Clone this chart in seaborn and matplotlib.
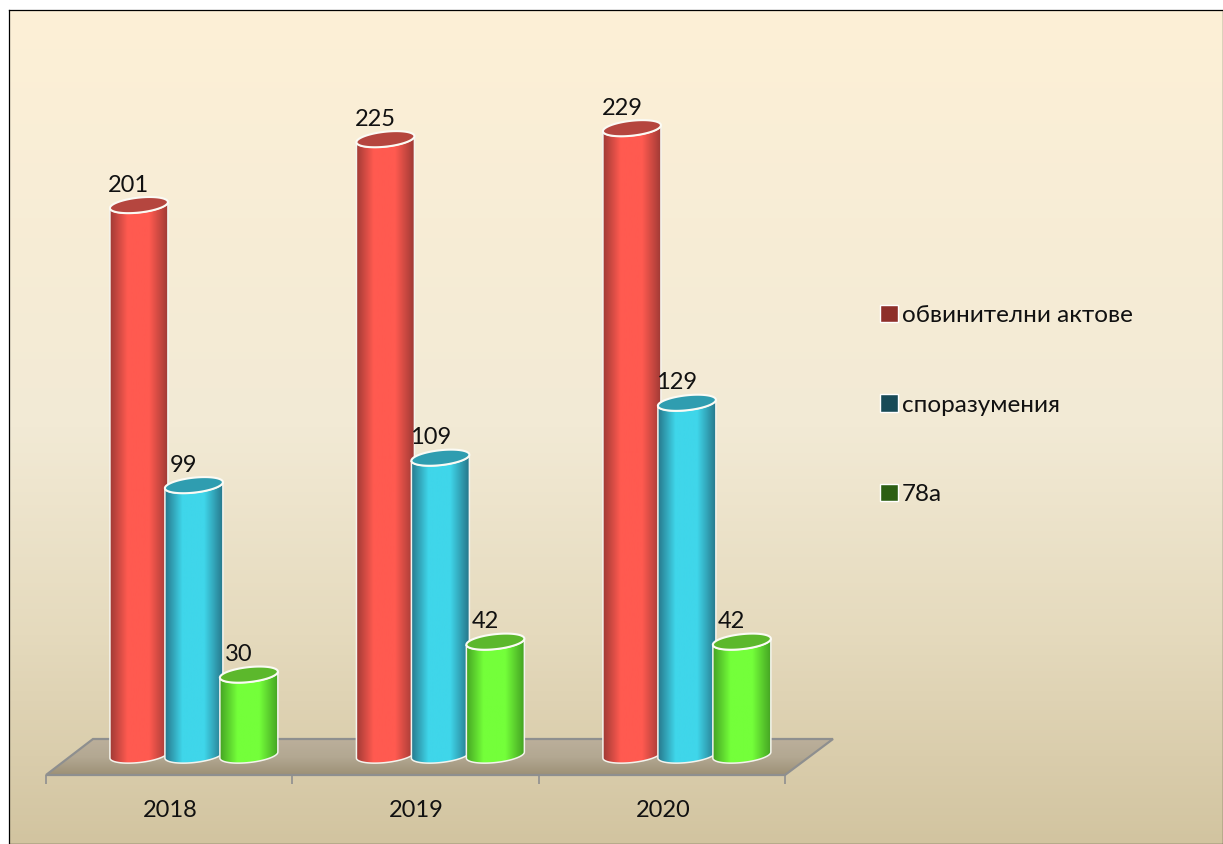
import numpy as np
import pandas as pd
import matplotlib
matplotlib.use("Agg")
import matplotlib.pyplot as plt
import seaborn as sns
from matplotlib.colors import LinearSegmentedColormap
from matplotlib.patches import Patch, Polygon
from matplotlib.transforms import Bbox

years = ["2018", "2019", "2020"]
series_names = ["обвинителни актове", "споразумения", "78а"]
indictments = [201, 225, 229]
agreements = [99, 109, 129]
art_78a = [30, 42, 42]

bright = ["#ff5a50", "#3fd6ea", "#74ff3a"]
edge_dark = ["#a03a35", "#27788c", "#45a423"]
lid = ["#b5463f", "#2f9db0", "#5cb82c"]
legend_cols = ["#8e2f2a", "#174a57", "#2c5f14"]

sns.set_theme(style="white")
plt.rcParams["font.family"] = ["Lato", "DejaVu Sans"]

W, H = 1223, 844
fig = plt.figure(figsize=(W / 100, H / 100), dpi=100, facecolor="white")

# background panel with the black frame
bg = fig.add_axes([9 / W, 0, (W - 9) / W, (H - 10) / H], zorder=0)
bg_cmap = LinearSegmentedColormap.from_list(
    "bg", [(0, "#fdf0d7"), (0.5, "#f2ead5"), (0.75, "#e5dabd"), (1, "#d2c4a0")])
bg.imshow(np.linspace(0, 1, 256)[:, None], cmap=bg_cmap, aspect="auto")
bg.set_xticks([])
bg.set_yticks([])
for s in bg.spines.values():
    s.set_color("black")
    s.set_linewidth(0.9)

# plot axes: front edge of the floor
ax_left, ax_right, ax_bottom, ax_top = 46, 785, 775, 96
ax = fig.add_axes([ax_left / W, (H - ax_bottom) / H, (ax_right - ax_left) / W,
                   (ax_bottom - ax_top) / H], zorder=1)
ax.patch.set_alpha(0)

df = pd.DataFrame({
    "year": years * 3,
    "kind": np.repeat(series_names, 3),
    "value": indictments + agreements + art_78a,
})
sns.barplot(data=df, x="year", y="value", hue="kind", hue_order=series_names,
            palette=bright, width=0.669, gap=-0.055, legend=False, ax=ax)

xlim = (-0.600, 2.398)
ylim = (-6.56, 240.73)
ax.set_xlim(xlim)
ax.set_ylim(ylim)
px_x = (xlim[1] - xlim[0]) / (ax_right - ax_left)
px_y = (ylim[1] - ylim[0]) / (ax_bottom - ax_top)

# floor
floor_pts = [(0, 0), (1, 0), ((833 - ax_left) / 739, 36 / 679), ((93 - ax_left) / 739, 36 / 679)]
floor = Polygon(floor_pts, closed=True, transform=ax.transAxes, facecolor="none",
                edgecolor="#8e8f8f", linewidth=1.6, clip_on=False, zorder=2)
floor_cmap = LinearSegmentedColormap.from_list("floor", ["#bbaf9b", "#b3a892", "#9d9177"])
im = ax.imshow(np.linspace(0, 1, 64)[:, None], cmap=floor_cmap, aspect="auto",
               extent=(0, 1.1, 0, 36 / 679), transform=ax.transAxes, zorder=1)
ax.add_patch(floor)
im.set_clip_box(Bbox.from_extents(0, 0, W, H))
im.set_clip_path(Polygon(floor_pts, closed=True, transform=ax.transAxes))
ax.set_xlim(xlim)
ax.set_ylim(ylim)


def ellipse_xy(cx, cy, half_w, t):
    # tilted lid shape, left side lower than right side
    return (cx + half_w * np.cos(t),
            cy + px_y * (7.5 * np.sin(t) + 3 * np.cos(t)))


for i, container in enumerate(ax.containers):
    cmap = LinearSegmentedColormap.from_list(
        f"cyl{i}", [(0, edge_dark[i]), (0.3, bright[i]), (0.68, bright[i]), (1, edge_dark[i])])
    for bar, value in zip(container, [indictments, agreements, art_78a][i]):
        bar.set_facecolor("none")
        bar.set_edgecolor("none")
        x0, w = bar.get_x(), bar.get_width()
        cx = x0 + w / 2
        hw = w / 2
        # body outline: left side down, bottom arc, right side up, lid arc back
        t_bot = np.linspace(np.pi, 2 * np.pi, 50)
        bx, by = ellipse_xy(cx, 0.7, hw, t_bot)
        t_top = np.linspace(0, np.pi, 50)
        tx, ty = ellipse_xy(cx, value, hw, -t_top)
        verts = np.column_stack([np.r_[bx, tx], np.r_[by, ty]])
        body = Polygon(verts, closed=True, transform=ax.transData, facecolor="none",
                       edgecolor="#f4f4ee", linewidth=1.1, zorder=5 + i, clip_on=False)
        img = ax.imshow(np.linspace(0, 1, 128)[None, :], cmap=cmap, aspect="auto",
                        extent=(x0, x0 + w, -10, value + 5), zorder=4 + i)
        ax.add_patch(body)
        img.set_clip_path(Polygon(verts, closed=True, transform=ax.transData))
        t_all = np.linspace(0, 2 * np.pi, 120)
        lx, ly = ellipse_xy(cx, value, hw, t_all)
        ax.add_patch(Polygon(np.column_stack([lx, ly]), closed=True, facecolor=lid[i],
                             edgecolor="#fbfbf5", linewidth=1.5, zorder=6 + i, clip_on=False))
        ax.annotate(str(value), (cx, value), xytext=(-10, 20), textcoords="offset pixels",
                    ha="center", va="center", fontsize=17, color="#111111", zorder=10)

ax.set_xlim(xlim)
ax.set_ylim(ylim)
ax.set_xlabel("")
ax.set_ylabel("")
ax.set_yticks([])
tick_shift = 24 * px_x
ax.set_xticks([k - tick_shift for k in range(3)], years)
ax.set_xticks([xlim[0] + k * (xlim[1] - xlim[0]) / 3 for k in range(4)], minor=True)
ax.tick_params(axis="x", which="major", length=0, pad=18, labelsize=17, labelcolor="#111111")
ax.tick_params(axis="x", which="minor", length=6.5, width=1.2, color="#8e8f8f", bottom=True)
for s in ax.spines.values():
    s.set_visible(False)

# legend
handles = [Patch(facecolor=c, edgecolor="white", linewidth=1.0) for c in legend_cols]
fig.legend(handles, series_names, loc="center left",
           bbox_to_anchor=(880 / W, (H - 405) / H), frameon=False, fontsize=17.5,
           handlelength=0.72, handleheight=0.72, handletextpad=0.18,
           labelspacing=2.81, labelcolor="#111111", borderpad=0, borderaxespad=0)

fig.savefig("out.png", dpi=100)
